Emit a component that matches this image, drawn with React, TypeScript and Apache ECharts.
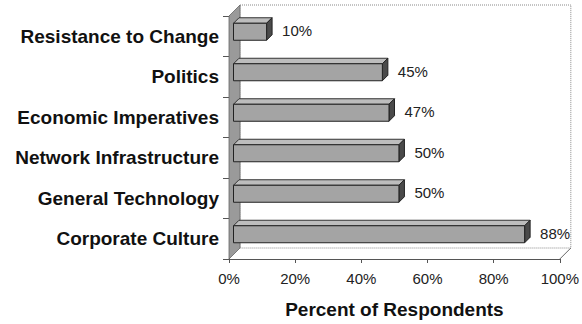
import React, { useEffect, useRef } from "react";
import * as echarts from "echarts";

const categories = [
  "Resistance to Change",
  "Politics",
  "Economic Imperatives",
  "Network Infrastructure",
  "General Technology",
  "Corporate Culture",
];
const values = [10, 45, 47, 50, 50, 88];
const xTicks = { min: 0, max: 100, interval: 20 };
const axisName = "Percent of Respondents";

export default function App() {
  const ref = useRef<HTMLDivElement>(null);
  useEffect(() => {
    if (!ref.current) return;
    const chart = echarts.init(ref.current, null, { renderer: "svg" });
    const D = 11; // wall depth
    const o = 4.5; // bar offset into depth
    const d = 5.5; // bar depth
    const h = 17; // bar height
    const font = "'Liberation Sans', Arial, sans-serif";
    chart.setOption({
      animation: false,
      grid: { left: 229, right: 20, top: 16, bottom: 61 },
      xAxis: {
        type: "value",
        min: xTicks.min,
        max: xTicks.max,
        interval: xTicks.interval,
        axisLine: { show: true, lineStyle: { color: "#555", width: 1 } },
        axisTick: { show: true, length: 4, lineStyle: { color: "#555" } },
        splitLine: { show: false },
        axisLabel: {
          formatter: "{value}%",
          fontSize: 15,
          color: "#222",
          fontFamily: font,
          margin: 12,
        },
        name: axisName,
        nameLocation: "middle",
        nameGap: 41,
        nameTextStyle: {
          fontSize: 19,
          fontWeight: "bold",
          color: "#111",
          fontFamily: font,
        },
      },
      yAxis: {
        type: "category",
        data: categories,
        inverse: true,
        axisLine: { show: true, lineStyle: { color: "#333", width: 1 } },
        axisTick: { show: true, length: 6, lineStyle: { color: "#555" } },
        axisLabel: {
          fontSize: 19,
          fontWeight: "bold",
          color: "#111",
          fontFamily: font,
          margin: 10,
        },
      },
      series: [
        {
          type: "custom",
          z: 1,
          silent: true,
          data: [[0, 0]],
          encode: { x: 0, y: 1 },
          renderItem: (params: any) => {
            const cs = params.coordSys;
            const L = cs.x, T = cs.y, R = cs.x + cs.width, B = cs.y + cs.height;
            return {
              type: "group",
              children: [
                {
                  type: "rect",
                  shape: { x: L + D, y: T - D, width: R - L, height: B - T },
                  style: { fill: "#fff", stroke: "#888", lineWidth: 1, lineDash: [1, 1] },
                },
                {
                  type: "polyline",
                  shape: { points: [[R, B], [R + D, B - D]] },
                  style: { stroke: "#666", lineWidth: 1, fill: null },
                },
                {
                  type: "polygon",
                  shape: { points: [[L, T], [L + D, T - D], [L + D, B - D], [L, B]] },
                  style: { fill: "#9a9a9a", stroke: "#666", lineWidth: 0.8 },
                },
              ],
            };
          },
        },
        {
          type: "custom",
          z: 3,
          data: values.map((v, i) => [v, i]),
          encode: { x: 0, y: 1 },
          renderItem: (params: any, api: any) => {
            const v = api.value(0);
            const idx = api.value(1);
            const p0 = api.coord([0, idx]);
            const p1 = api.coord([v, idx]);
            const x0 = p0[0] + o;
            const x1 = p1[0] + o;
            const yc = p0[1] - o;
            const yt = yc - h / 2;
            const yb = yc + h / 2;
            return {
              type: "group",
              children: [
                {
                  type: "polygon",
                  shape: { points: [[x0, yt], [x1, yt], [x1 + d, yt - d], [x0 + d, yt - d]] },
                  style: { fill: "#bdbdbd", stroke: "#333", lineWidth: 1 },
                },
                {
                  type: "polygon",
                  shape: { points: [[x1, yt], [x1 + d, yt - d], [x1 + d, yb - d], [x1, yb]] },
                  style: { fill: "#4a4a4a", stroke: "#222", lineWidth: 1 },
                },
                {
                  type: "rect",
                  shape: { x: x0, y: yt, width: x1 - x0, height: h },
                  style: { fill: "#a4a4a4", stroke: "#222", lineWidth: 1 },
                },
                {
                  type: "text",
                  style: {
                    text: v + "%",
                    x: x1 + d + 10,
                    y: yc - 1,
                    verticalAlign: "middle",
                    align: "left",
                    fontSize: 15,
                    fontFamily: font,
                    fill: "#222",
                  },
                },
              ],
            };
          },
        },
      ],
    });
    return () => chart.dispose();
  }, []);
  return (
    <div
      ref={ref}
      style={{ position: "fixed", left: 0, top: 0, width: 582, height: 324, background: "#fff" }}
    />
  );
}
